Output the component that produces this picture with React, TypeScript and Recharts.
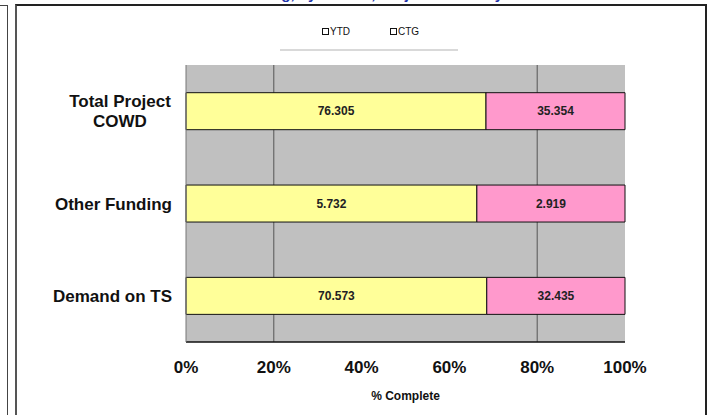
import { BarChart, Bar, XAxis, YAxis, CartesianGrid, LabelList, Label } from "recharts";

const categories = ["Total Project\nCOWD", "Other Funding", "Demand on TS"];
const ytdValues = [76.305, 5.732, 70.573];
const ctgValues = [35.354, 2.919, 32.435];
const xTicks = [0, 0.2, 0.4, 0.6, 0.8, 1];
const gridAt = [0.2, 0.8];

const data = categories.map((name, i) => ({ name, ytd: ytdValues[i], ctg: ctgValues[i] }));

const FONT = "Arial, 'Liberation Sans', Helvetica, sans-serif";

function CategoryTick({ x, y, payload }: { x?: number; y?: number; payload?: { value: string } }) {
  const lines = String(payload?.value ?? "").split("\n");
  if (lines.length === 1) {
    return (
      <text x={(x ?? 0) - 6} y={y} dy={6} textAnchor="end" fontFamily={FONT} fontWeight="bold" fontSize={17} fill="#111">
        {lines[0]}
      </text>
    );
  }
  // multi-line labels are centred on each other, right edge flush with the others
  const cx = (x ?? 0) - 6 - 52;
  return (
    <text textAnchor="middle" fontFamily={FONT} fontWeight="bold" fontSize={17} fill="#111">
      {lines.map((l, i) => (
        <tspan key={i} x={cx} y={(y ?? 0) + 6 + (i - (lines.length - 1) / 2) * 20}>
          {l}
        </tspan>
      ))}
    </text>
  );
}

function LegendBox() {
  const item = (label: string) => (
    <span style={{ display: "inline-flex", alignItems: "center", margin: "0 20px" }}>
      <span style={{ width: 5, height: 5, border: "1px solid #111", background: "#fff", marginRight: 1 }} />
      <span style={{ fontSize: 10, fontFamily: FONT, color: "#111" }}>{label}</span>
    </span>
  );
  return (
    <div style={{ position: "absolute", left: 0, top: 26, width: 711, height: 30 }}>
      <div style={{ position: "absolute", left: 302, top: 0, display: "flex" }}>
        {item("YTD")}
        {item("CTG")}
      </div>
      <div style={{ position: "absolute", left: 280, top: 23, width: 178, height: 2, background: "#d9d9d9" }} />
    </div>
  );
}

export default function App() {
  return (
    <div style={{ position: "absolute", left: 0, top: 0, width: 711, height: 415, background: "#fff", overflow: "hidden" }}>
      {/* frame lines of the scanned page */}
      <div style={{ position: "absolute", left: 0, top: 5, width: 8, height: 1, background: "#444" }} />
      <div style={{ position: "absolute", left: 7, top: 5, width: 1, height: 410, background: "#444" }} />
      <div style={{ position: "absolute", left: 15, top: 4, width: 688, height: 420, borderTop: "2px solid #222", borderLeft: "2px solid #555", borderRight: "2px solid #222" }} />
      <div style={{ position: "absolute", left: 0, top: -15, width: 711, textAlign: "center", fontFamily: FONT, fontWeight: "bold", fontSize: 15, color: "#2233aa" }}>
        TS Funding, by Source, Project Summary
      </div>
      <div style={{ position: "absolute", left: 0, top: 0 }}>
        <BarChart
          width={711}
          height={415}
          data={data}
          layout="vertical"
          stackOffset="expand"
          barCategoryGap="30%"
          margin={{ top: 65, right: 86, bottom: 13, left: 16 }}
        >
          <CartesianGrid fill="#c0c0c0" horizontal={false} vertical={true} verticalValues={gridAt} stroke="#555" />
          <XAxis
            type="number"
            domain={[0, 1]}
            ticks={xTicks}
            tickFormatter={(v: number) => `${Math.round(v * 100)}%`}
            height={60}
            axisLine={{ stroke: "#111", strokeWidth: 1.5 }}
            tickLine={false}
            tick={{ fontFamily: FONT, fontWeight: "bold", fontSize: 17, fill: "#111" }}
            tickMargin={13}
          >
            <Label value="% Complete" position="insideBottom" offset={2} style={{ fontFamily: FONT, fontWeight: "bold", fontSize: 12, fill: "#111" }} />
          </XAxis>
          <YAxis type="category" dataKey="name" width={170} axisLine={{ stroke: "#777" }} tickLine={false} tick={<CategoryTick />} />
          <Bar dataKey="ytd" stackId="a" fill="#ffff99" stroke="#111" strokeWidth={1} isAnimationActive={false}>
            <LabelList dataKey="ytd" position="center" style={{ fontFamily: FONT, fontWeight: "bold", fontSize: 12, fill: "#222" }} />
          </Bar>
          <Bar dataKey="ctg" stackId="a" fill="#ff99cc" stroke="#111" strokeWidth={1} isAnimationActive={false}>
            <LabelList dataKey="ctg" position="center" style={{ fontFamily: FONT, fontWeight: "bold", fontSize: 12, fill: "#222" }} />
          </Bar>
        </BarChart>
      </div>
      <LegendBox />
    </div>
  );
}
